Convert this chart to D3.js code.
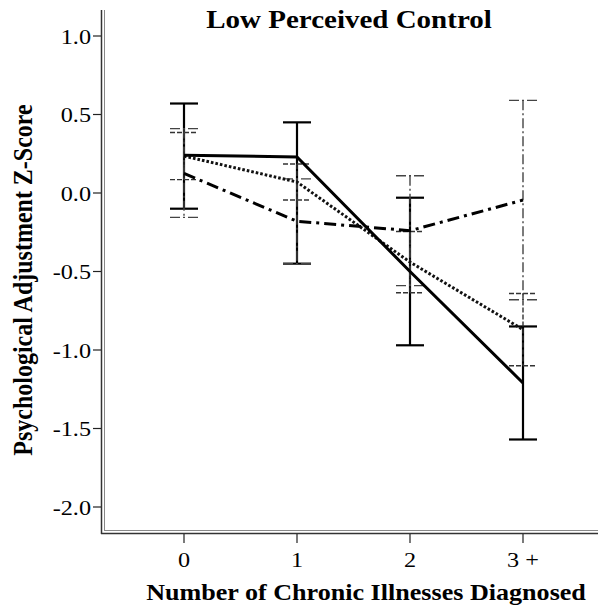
<!DOCTYPE html>
<html>
<head>
<meta charset="utf-8">
<script src="https://cdn.jsdelivr.net/npm/d3@7/dist/d3.min.js"></script>
<style>
  html, body { margin: 0; padding: 0; background: #fff; }
  svg { display: block; }
  text { font-family: "Liberation Serif", "Times New Roman", serif; fill: #000; }
</style>
</head>
<body>
<svg id="chart" width="598" height="610"></svg>
<script>
// Illness-count groups on the x axis
const categories = ["0", "1", "2", "3 +"];
const yTicks = [1.0, 0.5, 0.0, -0.5, -1.0, -1.5, -2.0];

// Group means with 95% CI bounds, one set per line
const solidMean = [0.24, 0.23, -0.50, -1.21];
const solidLo   = [-0.10, -0.45, -0.97, -1.57];
const solidHi   = [0.57, 0.45, -0.03, -0.85];

const dottedMean = [0.235, 0.07, -0.44, -0.87];
const dottedLo   = [0.085, -0.045, -0.635, -1.10];
const dottedHi   = [0.385, 0.185, -0.245, -0.64];

const dashDotMean = [0.125, -0.18, -0.24, -0.045];
const dashDotLo   = [-0.155, -0.45, -0.59, -0.68];
const dashDotHi   = [0.41, 0.09, 0.11, 0.59];

const svg = d3.select("#chart");
const sx = 1.16; // horizontal text stretch

const x = d3.scalePoint().domain(categories).range([184, 523]);
const y = d3.scaleLinear().domain([-2, 1]).range([507, 36]);

const series = [
  { name: "solid", mean: solidMean, lo: solidLo, hi: solidHi,
    line: { w: 3, dash: null, color: "#000" },
    bar: { w: 2.2, dash: null, color: "#000" } },
  { name: "dotted", mean: dottedMean, lo: dottedLo, hi: dottedHi,
    line: { w: 3, dash: "2.6,2", color: "#111" },
    bar: { w: 1.4, dash: "5,2", color: "#333" } },
  { name: "dashdot", mean: dashDotMean, lo: dashDotLo, hi: dashDotHi,
    line: { w: 3, dash: "12,5,3,5", color: "#000" },
    bar: { w: 1.4, dash: "10,3,2,3", color: "#444" } }
];

// Axis frame (double rule)
svg.append("line").attr("x1", 101.5).attr("x2", 101.5).attr("y1", 10).attr("y2", 534)
  .attr("stroke", "#333").attr("stroke-width", 1.5);
svg.append("line").attr("x1", 104.5).attr("x2", 104.5).attr("y1", 10).attr("y2", 531)
  .attr("stroke", "#888").attr("stroke-width", 1);
svg.append("line").attr("x1", 101).attr("x2", 598).attr("y1", 533.5).attr("y2", 533.5)
  .attr("stroke", "#333").attr("stroke-width", 1.5);
svg.append("line").attr("x1", 104).attr("x2", 598).attr("y1", 530.5).attr("y2", 530.5)
  .attr("stroke", "#888").attr("stroke-width", 1);

// Y axis ticks and labels
const yAxis = svg.append("g");
yTicks.forEach(v => {
  yAxis.append("line").attr("x1", 93).attr("x2", 101).attr("y1", y(v)).attr("y2", y(v))
    .attr("stroke", "#222").attr("stroke-width", 1.2);
  yAxis.append("text")
    .attr("transform", `translate(91,${y(v) + 7.5}) scale(${1.1},1)`)
    .attr("text-anchor", "end")
    .style("font-size", "22px")
    .text(d3.format(".1f")(v).replace("−", "-"));
});

// X axis ticks and labels
const xAxis = svg.append("g");
categories.forEach(c => {
  xAxis.append("line").attr("x1", x(c)).attr("x2", x(c)).attr("y1", 534).attr("y2", 543)
    .attr("stroke", "#222").attr("stroke-width", 1.2);
  xAxis.append("text")
    .attr("transform", `translate(${x(c)},567) scale(${1.1},1)`)
    .attr("text-anchor", "middle")
    .style("font-size", "22px")
    .text(c);
});

// Error bars
const capHalf = 14;
series.forEach(s => {
  const g = svg.append("g").attr("class", "err-" + s.name)
    .attr("stroke", s.bar.color).attr("stroke-width", s.bar.w).attr("fill", "none");
  categories.forEach((c, i) => {
    const cx = x(c);
    const seg = (x1, y1, x2, y2) => {
      const l = g.append("line").attr("x1", x1).attr("y1", y1).attr("x2", x2).attr("y2", y2);
      if (s.bar.dash) l.attr("stroke-dasharray", s.bar.dash);
    };
    seg(cx, y(s.hi[i]), cx, y(s.lo[i]));
    seg(cx - capHalf, y(s.hi[i]), cx + capHalf, y(s.hi[i]));
    seg(cx - capHalf, y(s.lo[i]), cx + capHalf, y(s.lo[i]));
  });
});

// Mean lines
const lineGen = d3.line().x((d, i) => x(categories[i])).y(d => y(d));
series.slice().reverse().forEach(s => {
  const p = svg.append("path").datum(s.mean)
    .attr("d", lineGen)
    .attr("fill", "none")
    .attr("stroke", s.line.color)
    .attr("stroke-width", s.line.w);
  if (s.line.dash) p.attr("stroke-dasharray", s.line.dash);
});

// Titles
svg.append("text")
  .attr("transform", `translate(349,28) scale(${sx},1)`)
  .attr("text-anchor", "middle")
  .style("font-size", "25px").style("font-weight", "bold")
  .text("Low Perceived Control");

svg.append("text")
  .attr("transform", `translate(366,600) scale(${sx},1)`)
  .attr("text-anchor", "middle")
  .style("font-size", "22.5px").style("font-weight", "bold")
  .text("Number of Chronic Illnesses Diagnosed");

svg.append("text")
  .attr("transform", `translate(32,280) scale(${1.1},1) rotate(-90)`)
  .attr("text-anchor", "middle")
  .style("font-size", "24px").style("font-weight", "bold")
  .text("Psychological Adjustment Z-Score");
</script>
</body>
</html>
